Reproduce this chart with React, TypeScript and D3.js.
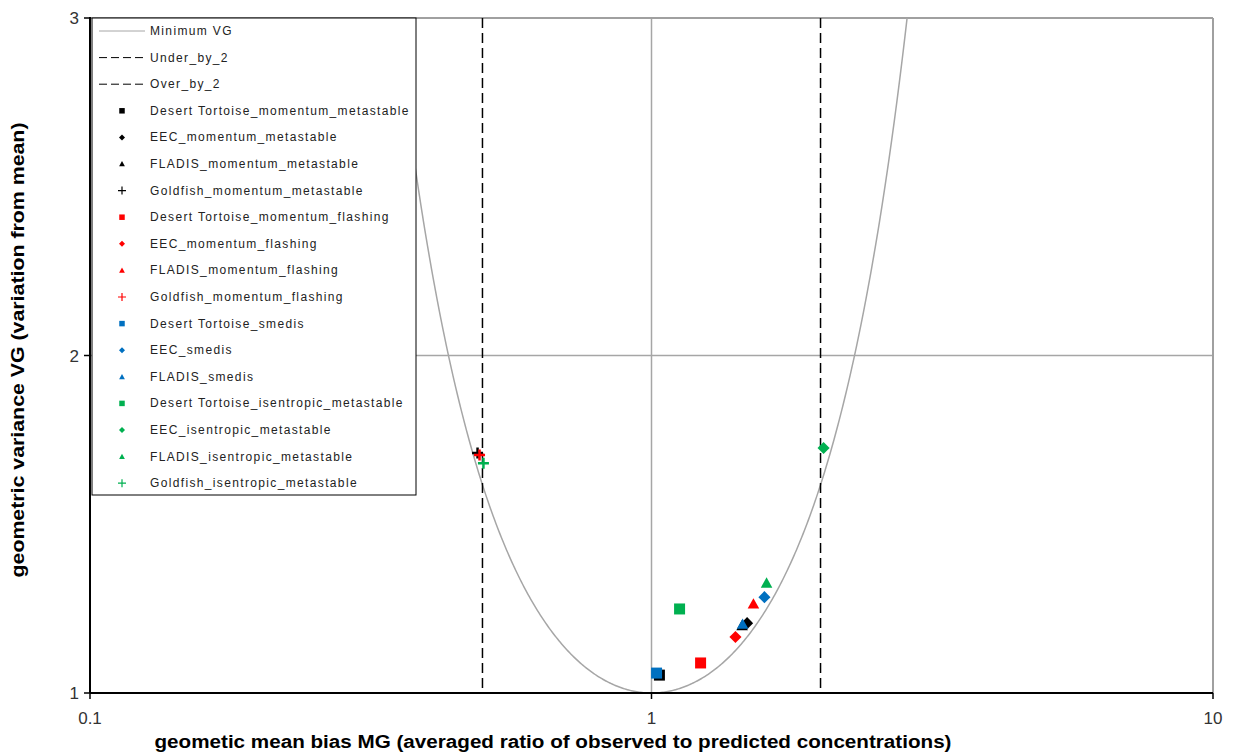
import React from "react";
import * as d3 from "d3";

const W = 1235;
const H = 756;

const xTicks = [0.1, 1, 10];
const xTickLabels = ["0.1", "1", "10"];
const yTicks = [1, 2, 3];
const yTickLabels = ["1", "2", "3"];

const factorLines = [0.5, 2];
const factorNames = ["Under_by_2", "Over_by_2"];

type Shape = "square" | "diamond" | "triangle" | "plus";

const seriesNames = [
  "Desert Tortoise_momentum_metastable",
  "EEC_momentum_metastable",
  "FLADIS_momentum_metastable",
  "Goldfish_momentum_metastable",
  "Desert Tortoise_momentum_flashing",
  "EEC_momentum_flashing",
  "FLADIS_momentum_flashing",
  "Goldfish_momentum_flashing",
  "Desert Tortoise_smedis",
  "EEC_smedis",
  "FLADIS_smedis",
  "Desert Tortoise_isentropic_metastable",
  "EEC_isentropic_metastable",
  "FLADIS_isentropic_metastable",
  "Goldfish_isentropic_metastable",
];
const seriesShapes: Shape[] = [
  "square", "diamond", "triangle", "plus",
  "square", "diamond", "triangle", "plus",
  "square", "diamond", "triangle",
  "square", "diamond", "triangle", "plus",
];
const seriesColors = [
  "#000000", "#000000", "#000000", "#000000",
  "#ff0000", "#ff0000", "#ff0000", "#ff0000",
  "#0070c0", "#0070c0", "#0070c0",
  "#00b050", "#00b050", "#00b050", "#00b050",
];
const seriesMG = [
  1.033, 1.48, 1.45, 0.49,
  1.223, 1.411, 1.519, 0.494,
  1.021, 1.589, 1.453,
  1.122, 2.025, 1.603, 0.502,
];
const seriesVG = [
  1.053, 1.207, 1.2, 1.711,
  1.089, 1.166, 1.264, 1.705,
  1.059, 1.284, 1.204,
  1.249, 1.726, 1.326, 1.681,
];

// Minimum VG curve: ln VG = (ln MG)^2
const curveMG = d3.range(0, 401).map((i) => Math.exp(-1.1 + (2.2 * i) / 400));
const curveVG = curveMG.map((m) => Math.exp(Math.log(m) ** 2));

const L = 90, R = 1213, T = 18, B = 693;
const x = d3.scaleLog().domain([0.1, 10]).range([L, R]);
const y = d3.scaleLinear().domain([1, 3]).range([B, T]);

function markerPath(shape: Shape, s: number): string {
  const h = s / 2;
  if (shape === "square") return `M${-h},${-h}H${h}V${h}H${-h}Z`;
  if (shape === "diamond") return `M0,${-h * 1.1}L${h * 1.1},0L0,${h * 1.1}L${-h * 1.1},0Z`;
  if (shape === "triangle") return `M0,${-h * 1.05}L${h * 1.05},${h * 0.85}L${-h * 1.05},${h * 0.85}Z`;
  return `M${-h},0H${h}M0,${-h}V${h}`;
}

function Marker({ shape, color, cx, cy, size, sw }: { shape: Shape; color: string; cx: number; cy: number; size: number; sw: number }) {
  const d = markerPath(shape, size);
  if (shape === "plus") {
    return <path d={d} transform={`translate(${cx},${cy})`} stroke={color} strokeWidth={sw} fill="none" />;
  }
  return <path d={d} transform={`translate(${cx},${cy})`} fill={color} stroke="none" />;
}

export default function App() {
  const line = d3
    .line<number>()
    .x((_, i) => x(curveMG[i]))
    .y((v) => y(v));
  const font = "'Liberation Sans', Arial, sans-serif";
  const legendX = 92, legendY = 18, legendW = 324, legendH = 477;
  const rowY0 = 31, rowStep = 26.6;
  const legendRows = [
    { kind: "solid", label: "Minimum VG" },
    ...factorNames.map((n) => ({ kind: "dash", label: n })),
  ];
  return (
    <svg width={W} height={H} style={{ position: "absolute", left: 0, top: 0, background: "#fff" }}>
      <defs>
        <clipPath id="plot">
          <rect x={L} y={T} width={R - L} height={B - T} />
        </clipPath>
      </defs>
      <rect x={0} y={0} width={W} height={H} fill="#fff" />
      {/* grid */}
      <line x1={x(1)} x2={x(1)} y1={T} y2={B} stroke="#a6a6a6" strokeWidth={1.5} />
      <line x1={L} x2={R} y1={y(2)} y2={y(2)} stroke="#a6a6a6" strokeWidth={1.5} />
      {/* border */}
      <line x1={L} x2={R} y1={T} y2={T} stroke="#a0a0a0" strokeWidth={2} />
      <line x1={R} x2={R} y1={T} y2={B} stroke="#a0a0a0" strokeWidth={2} />
      {/* curve */}
      <g clipPath="url(#plot)">
        <path d={line(curveVG) || ""} fill="none" stroke="#a6a6a6" strokeWidth={1.5} />
        {factorLines.map((f) => (
          <line key={f} x1={x(f)} x2={x(f)} y1={T} y2={B} stroke="#000" strokeWidth={1.5} strokeDasharray="10,5" />
        ))}
      </g>
      {/* axes */}
      <line x1={L} x2={L} y1={T - 1} y2={B} stroke="#000" strokeWidth={2} />
      <line x1={L} x2={R} y1={B} y2={B} stroke="#000" strokeWidth={2} />
      {yTicks.map((t, i) => (
        <g key={t}>
          <line x1={L - 6} x2={L} y1={y(t)} y2={y(t)} stroke="#000" strokeWidth={1.5} />
          <text x={L - 11} y={y(t) + 6} textAnchor="end" fontFamily={font} fontSize={17} fill="#333">
            {yTickLabels[i]}
          </text>
        </g>
      ))}
      {xTicks.map((t, i) => (
        <g key={t}>
          <line x1={x(t)} x2={x(t)} y1={B} y2={B + 6} stroke="#000" strokeWidth={1.5} />
          <text x={x(t)} y={B + 31} textAnchor="middle" fontFamily={font} fontSize={17} fill="#333">
            {xTickLabels[i]}
          </text>
        </g>
      ))}
      <text
        x={553}
        y={748}
        textAnchor="middle"
        fontFamily="'Liberation Sans Narrow', 'Liberation Sans', Arial, sans-serif"
        fontWeight="bold"
        fontSize={18}
        fill="#000"
        textLength={797}
        lengthAdjust="spacingAndGlyphs"
      >
        geometic mean bias MG (averaged ratio of observed to predicted concentrations)
      </text>
      <text
        transform={`translate(24,350) rotate(-90)`}
        textAnchor="middle"
        fontFamily="'Liberation Sans Narrow', 'Liberation Sans', Arial, sans-serif"
        fontWeight="bold"
        fontSize={18}
        fill="#000"
        textLength={455}
        lengthAdjust="spacingAndGlyphs"
      >
        geometric variance VG (variation from mean)
      </text>
      {/* points */}
      <g clipPath="url(#plot)">
        {seriesNames.map((n, i) => (
          <Marker
            key={n}
            shape={seriesShapes[i]}
            color={seriesColors[i]}
            cx={x(seriesMG[i])}
            cy={y(seriesVG[i])}
            size={11}
            sw={2.5}
          />
        ))}
      </g>
      {/* legend */}
      <rect x={legendX} y={legendY} width={legendW} height={legendH} fill="#fff" stroke="#000" strokeWidth={1} />
      {legendRows.map((r, i) => {
        const cy = rowY0 + i * rowStep;
        return (
          <g key={r.label}>
            <line
              x1={99}
              x2={145}
              y1={cy}
              y2={cy}
              stroke={r.kind === "solid" ? "#a6a6a6" : "#000"}
              strokeWidth={1}
              strokeDasharray={r.kind === "solid" ? undefined : "8,4"}
            />
            <text x={150} y={cy + 4} fontFamily={font} fontSize={12} fill="#222" letterSpacing={1.35}>
              {r.label}
            </text>
          </g>
        );
      })}
      {seriesNames.map((n, i) => {
        const cy = rowY0 + (i + 3) * rowStep;
        return (
          <g key={n}>
            <Marker shape={seriesShapes[i]} color={seriesColors[i]} cx={122} cy={cy} size={seriesShapes[i] === "plus" ? 8 : 5.5} sw={1.2} />
            <text x={150} y={cy + 4} fontFamily={font} fontSize={12} fill="#222" letterSpacing={1.35}>
              {n}
            </text>
          </g>
        );
      })}
    </svg>
  );
}
